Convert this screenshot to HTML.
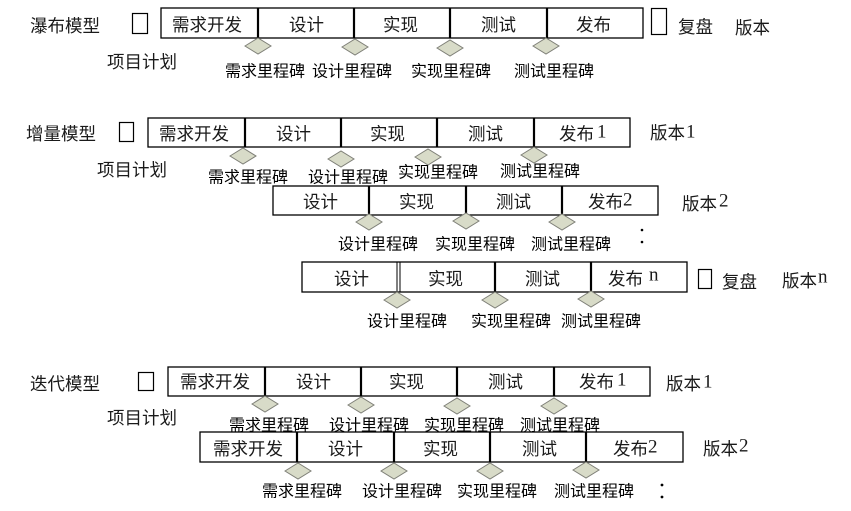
<!DOCTYPE html>
<html><head><meta charset="utf-8"><style>
html,body{margin:0;padding:0;background:#fff;}
svg{display:block;}
text{font-family:"Liberation Sans","Noto Sans CJK SC",sans-serif;fill:#1a1a1a;dominant-baseline:central;}
.b{font-size:17.5px;}
.m{font-size:16px;fill:#000;}
.d{font-family:"Liberation Serif",serif;font-size:19px;}
.box{fill:none;stroke:#000;stroke-width:1.3;}
.div{stroke:#000;stroke-width:2.2;}
.dm{fill:#d8dbc8;stroke:#7f8078;stroke-width:1;}
.sq{fill:none;stroke:#000;stroke-width:1.2;}
</style></head><body>
<svg width="851" height="511" viewBox="0 0 851 511" xmlns="http://www.w3.org/2000/svg">

<!-- ===== Waterfall ===== -->
<text class="b" x="30" y="26">瀑布模型</text>
<rect class="sq" x="132.5" y="13.5" width="15" height="20"/>
<text class="b" x="107" y="62">项目计划</text>
<rect class="box" x="161" y="8" width="482" height="30"/>
<line class="div" x1="258" y1="8" x2="258" y2="38"/>
<line class="div" x1="354" y1="8" x2="354" y2="38"/>
<line class="div" x1="450" y1="8" x2="450" y2="38"/>
<line class="div" x1="547" y1="8" x2="547" y2="38"/>
<text class="b" x="172" y="25">需求开发</text>
<text class="b" x="289" y="25">设计</text>
<text class="b" x="383" y="25">实现</text>
<text class="b" x="481" y="25">测试</text>
<text class="b" x="576" y="25">发布</text>
<polygon class="dm" points="245,46 258,38 271,46 258,54"/>
<polygon class="dm" points="342,47 355,39 368,47 355,55"/>
<polygon class="dm" points="437,48 450,40 463,48 450,56"/>
<polygon class="dm" points="533,46 546,38 559,46 546,54"/>
<text class="m" x="225" y="72">需求里程碑</text>
<text class="m" x="312" y="72">设计里程碑</text>
<text class="m" x="411" y="72">实现里程碑</text>
<text class="m" x="514" y="72">测试里程碑</text>
<rect class="sq" x="651.5" y="8.5" width="15" height="26"/>
<text class="b" x="678" y="27">复盘</text>
<text class="b" x="735" y="28">版本</text>

<!-- ===== Incremental ===== -->
<text class="b" x="26" y="134">增量模型</text>
<rect class="sq" x="119.5" y="122.5" width="14" height="19"/>
<text class="b" x="97" y="170">项目计划</text>
<rect class="box" x="148" y="118" width="482" height="29"/>
<line class="div" x1="245" y1="118" x2="245" y2="147"/>
<line class="div" x1="341" y1="118" x2="341" y2="147"/>
<line class="div" x1="437" y1="118" x2="437" y2="147"/>
<line class="div" x1="534" y1="118" x2="534" y2="147"/>
<text class="b" x="159" y="134">需求开发</text>
<text class="b" x="276" y="134">设计</text>
<text class="b" x="370" y="134">实现</text>
<text class="b" x="468" y="134">测试</text>
<text class="b" x="559" y="134">发布</text><text class="d" x="597" y="132">1</text>
<polygon class="dm" points="230,156 243,148 256,156 243,164"/>
<polygon class="dm" points="328,159 341,151 354,159 341,167"/>
<polygon class="dm" points="415,157 428,149 441,157 428,165"/>
<polygon class="dm" points="521,155 534,147 547,155 534,163"/>
<text class="m" x="208" y="178">需求里程碑</text>
<text class="m" x="308" y="178">设计里程碑</text>
<text class="m" x="398" y="173">实现里程碑</text>
<text class="m" x="500" y="172">测试里程碑</text>
<text class="b" x="650" y="133">版本</text><text class="d" x="686" y="132">1</text>

<rect class="box" x="273" y="186" width="385" height="29"/>
<line class="div" x1="369" y1="186" x2="369" y2="215"/>
<line class="div" x1="466" y1="186" x2="466" y2="215"/>
<line class="div" x1="562" y1="186" x2="562" y2="215"/>
<text class="b" x="303" y="202">设计</text>
<text class="b" x="399" y="202">实现</text>
<text class="b" x="496" y="202">测试</text>
<text class="b" x="588" y="202">发布</text><text class="d" x="623" y="200">2</text>
<polygon class="dm" points="356,222 369,214 382,222 369,230"/>
<polygon class="dm" points="453,221 466,213 479,221 466,229"/>
<polygon class="dm" points="549,222 562,214 575,222 562,230"/>
<text class="m" x="338" y="245">设计里程碑</text>
<text class="m" x="435" y="245">实现里程碑</text>
<text class="m" x="531" y="245">测试里程碑</text>
<text class="b" x="682" y="204">版本</text><text class="d" x="719" y="201">2</text>
<circle cx="642" cy="230" r="1.3" fill="#000"/>
<circle cx="642" cy="242" r="1.3" fill="#000"/>

<rect class="box" x="302" y="262" width="385" height="30"/>
<line class="div" x1="397" y1="262" x2="397" y2="292" style="stroke-width:1"/>
<line class="div" x1="400" y1="262" x2="400" y2="292" style="stroke-width:1"/>
<line class="div" x1="495" y1="262" x2="495" y2="292"/>
<line class="div" x1="591" y1="262" x2="591" y2="292"/>
<text class="b" x="334" y="279">设计</text>
<text class="b" x="428" y="279">实现</text>
<text class="b" x="525" y="279">测试</text>
<text class="b" x="608" y="279">发布</text><text class="d" x="649" y="275">n</text>
<polygon class="dm" points="384,300 397,292 410,300 397,308"/>
<polygon class="dm" points="482,300 495,292 508,300 495,308"/>
<polygon class="dm" points="578,299 591,291 604,299 591,307"/>
<text class="m" x="367" y="322">设计里程碑</text>
<text class="m" x="471" y="322">实现里程碑</text>
<text class="m" x="561" y="322">测试里程碑</text>
<rect class="sq" x="698.5" y="269.5" width="13" height="19"/>
<text class="b" x="722" y="282">复盘</text>
<text class="b" x="782" y="281">版本</text><text class="d" x="818" y="277">n</text>

<!-- ===== Iterative ===== -->
<text class="b" x="30" y="384">迭代模型</text>
<rect class="sq" x="138.5" y="372.5" width="15" height="18"/>
<text class="b" x="107" y="418">项目计划</text>
<rect class="box" x="168" y="367" width="482" height="29"/>
<line class="div" x1="265" y1="367" x2="265" y2="396"/>
<line class="div" x1="361" y1="367" x2="361" y2="396"/>
<line class="div" x1="457" y1="367" x2="457" y2="396"/>
<line class="div" x1="554" y1="367" x2="554" y2="396"/>
<text class="b" x="180" y="382">需求开发</text>
<text class="b" x="296" y="382">设计</text>
<text class="b" x="389" y="382">实现</text>
<text class="b" x="488" y="382">测试</text>
<text class="b" x="579" y="382">发布</text><text class="d" x="617" y="380">1</text>
<polygon class="dm" points="252,404 265,396 278,404 265,412"/>
<polygon class="dm" points="348,405 361,397 374,405 361,413"/>
<polygon class="dm" points="444,406 457,398 470,406 457,414"/>
<polygon class="dm" points="541,406 554,398 567,406 554,414"/>
<text class="m" x="229" y="426">需求里程碑</text>
<text class="m" x="329" y="426">设计里程碑</text>
<text class="m" x="424" y="426">实现里程碑</text>
<text class="m" x="520" y="426">测试里程碑</text>
<text class="b" x="666" y="384">版本</text><text class="d" x="703" y="382">1</text>

<rect class="box" x="200" y="432" width="483" height="30"/>
<line class="div" x1="297" y1="432" x2="297" y2="462"/>
<line class="div" x1="394" y1="432" x2="394" y2="462"/>
<line class="div" x1="490" y1="432" x2="490" y2="462"/>
<line class="div" x1="586" y1="432" x2="586" y2="462"/>
<text class="b" x="213" y="449">需求开发</text>
<text class="b" x="328" y="449">设计</text>
<text class="b" x="423" y="449">实现</text>
<text class="b" x="522" y="449">测试</text>
<text class="b" x="613" y="449">发布</text><text class="d" x="648" y="447">2</text>
<polygon class="dm" points="285,471 298,463 311,471 298,479"/>
<polygon class="dm" points="381,471 394,463 407,471 394,479"/>
<polygon class="dm" points="477,471 490,463 503,471 490,479"/>
<polygon class="dm" points="573,470 586,462 599,470 586,478"/>
<text class="m" x="262" y="492">需求里程碑</text>
<text class="m" x="362" y="492">设计里程碑</text>
<text class="m" x="457" y="492">实现里程碑</text>
<text class="m" x="554" y="492">测试里程碑</text>
<text class="b" x="703" y="449">版本</text><text class="d" x="739" y="446">2</text>
<circle cx="662" cy="485" r="1.4" fill="#000"/>
<circle cx="662" cy="497" r="1.4" fill="#000"/>
</svg>
</body></html>
